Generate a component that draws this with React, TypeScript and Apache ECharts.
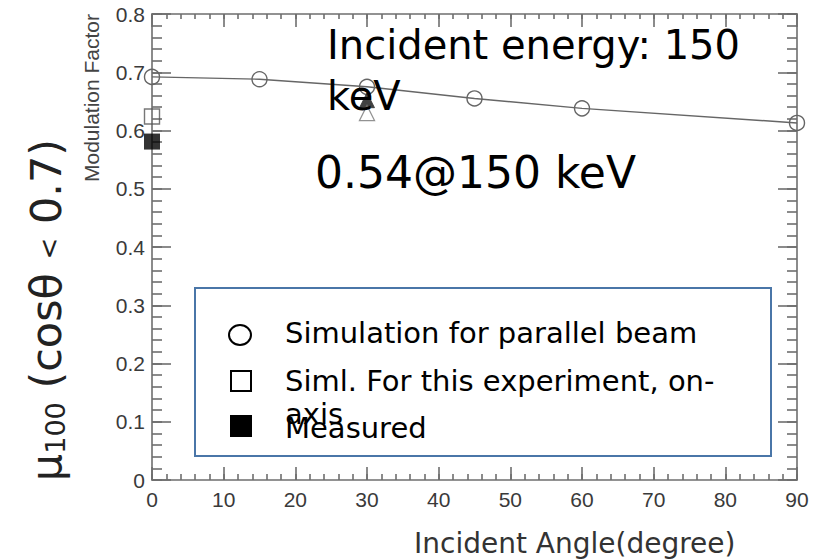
import React, { useEffect, useRef } from "react";
import * as echarts from "echarts";

// Incident angle (degree) of each simulated parallel-beam point
const parallelAngles = [0, 15, 30, 45, 60, 90];
// Modulation factor of the parallel-beam simulation
const parallelValues = [0.692, 0.688, 0.675, 0.655, 0.638, 0.613];

// Simulation of this experiment, on-axis
const simlAngles = [0];
const simlValues = [0.624];

// Measured modulation factor
const measuredAngles = [0];
const measuredValues = [0.581];

// Extra simulation points at 30 degree
const triOpenAngles = [30];
const triOpenValues = [0.63];
const triFilledAngles = [30];
const triFilledValues = [0.652];

const xTicks = [0, 10, 20, 30, 40, 50, 60, 70, 80, 90];
const yTicks = [0, 0.1, 0.2, 0.3, 0.4, 0.5, 0.6, 0.7, 0.8];
const xMinorStep = 2;
const yMinorStep = 0.02;

const legendLabels = [
  "Simulation for parallel beam",
  "Siml. For this experiment, on-",
  "axis",
  "Measured",
];

const HAND = "'Comic Sans MS', 'DejaVu Sans', sans-serif";
const SANS = "'Liberation Sans', Arial, sans-serif";
const AXIS_GRAY = "#6e6e6e";

const pairs = (xs: number[], ys: number[]) => xs.map((x, i) => [x, ys[i]]);

export default function App() {
  const ref = useRef<HTMLDivElement>(null);

  useEffect(() => {
    if (!ref.current) return;
    const chart = echarts.init(ref.current, undefined, { renderer: "svg" });

    const gridRect = { left: 152, right: 23, top: 14, bottom: 80 };
    const tickStyle = { color: AXIS_GRAY, width: 1.6 };

    const xRange = { type: "value" as const, min: xTicks[0], max: xTicks[xTicks.length - 1] };
    const yRange = { type: "value" as const, min: yTicks[0], max: yTicks[yTicks.length - 1] };

    // major ticks + frame on grid 0 (onZero off so top/right stay on the frame)
    const xMajor = (position: string, showLabel: boolean) => ({
      ...xRange,
      gridIndex: 0,
      position,
      interval: 10,
      splitLine: { show: false },
      axisLine: { show: true, onZero: false, lineStyle: { color: AXIS_GRAY, width: 1.6 } },
      axisTick: { show: true, inside: true, length: 13, lineStyle: tickStyle },
      axisLabel: showLabel
        ? { show: true, margin: 9, fontFamily: SANS, fontSize: 21, color: "#3a3a3a" }
        : { show: false },
    });
    const yMajor = (position: string, showLabel: boolean) => ({
      ...yRange,
      gridIndex: 0,
      position,
      interval: 0.1,
      splitLine: { show: false },
      axisLine: { show: true, onZero: false, lineStyle: { color: AXIS_GRAY, width: 1.6 } },
      axisTick: { show: true, inside: true, length: 19, lineStyle: tickStyle },
      axisLabel: showLabel
        ? { show: true, margin: 7, fontFamily: SANS, fontSize: 21, color: "#3a3a3a" }
        : { show: false },
    });
    // minor ticks, drawn inward, on an overlaid grid of the same size
    const xMinor = (position: string, length: number) => ({
      ...xRange,
      gridIndex: 1,
      position,
      interval: xMinorStep,
      splitLine: { show: false },
      axisLine: { show: false, onZero: false },
      axisLabel: { show: false },
      axisTick: { show: true, inside: true, length, lineStyle: tickStyle },
    });
    const yMinor = (position: string, length: number) => ({
      ...yRange,
      gridIndex: 1,
      position,
      interval: yMinorStep,
      splitLine: { show: false },
      axisLine: { show: false, onZero: false },
      axisLabel: { show: false },
      axisTick: { show: true, inside: true, length, lineStyle: tickStyle },
    });

    chart.setOption({
      animation: false,
      backgroundColor: "#ffffff",
      textStyle: { fontFamily: SANS },
      grid: [{ ...gridRect }, { ...gridRect }],
      xAxis: [xMajor("bottom", true), xMajor("top", false), xMinor("bottom", 6), xMinor("top", 5)],
      yAxis: [yMajor("left", true), yMajor("right", false), yMinor("left", 10), yMinor("right", 10)],
      series: [
        {
          name: "Simulation for parallel beam",
          type: "line",
          xAxisIndex: 0,
          yAxisIndex: 0,
          data: pairs(parallelAngles, parallelValues),
          symbol: "circle",
          symbolSize: 15,
          clip: false,
          lineStyle: { color: "#666", width: 1.4 },
          itemStyle: { color: "rgba(255,255,255,0)", borderColor: "#666", borderWidth: 1.4 },
          z: 3,
        },
        {
          name: "Triangle, filled",
          type: "scatter",
          xAxisIndex: 0,
          yAxisIndex: 0,
          data: pairs(triFilledAngles, triFilledValues),
          symbol: "triangle",
          symbolSize: 15,
          clip: false,
          itemStyle: { color: "#111", borderColor: "#333", borderWidth: 1 },
          z: 4,
        },
        {
          name: "Triangle, open",
          type: "scatter",
          xAxisIndex: 0,
          yAxisIndex: 0,
          data: pairs(triOpenAngles, triOpenValues),
          symbol: "triangle",
          symbolSize: 15,
          clip: false,
          itemStyle: { color: "rgba(255,255,255,0)", borderColor: "#777", borderWidth: 1.3 },
          z: 4,
        },
        {
          name: "Siml. For this experiment, on-axis",
          type: "scatter",
          xAxisIndex: 0,
          yAxisIndex: 0,
          data: pairs(simlAngles, simlValues),
          symbol: "rect",
          symbolSize: 15,
          clip: false,
          itemStyle: { color: "rgba(255,255,255,0)", borderColor: "#555", borderWidth: 1.4 },
          z: 4,
        },
        {
          name: "Measured",
          type: "scatter",
          xAxisIndex: 0,
          yAxisIndex: 0,
          data: pairs(measuredAngles, measuredValues),
          symbol: "rect",
          symbolSize: 16,
          clip: false,
          itemStyle: { color: "#000" },
          z: 5,
        },
      ],
      graphic: [
        {
          type: "text",
          x: 91,
          y: 98,
          rotation: Math.PI / 2,
          style: {
            text: "Modulation Factor",
            fontFamily: SANS,
            fontSize: 21,
            fill: "#444",
            align: "center",
            verticalAlign: "middle",
          },
        },
        {
          type: "text",
          x: 46,
          y: 310,
          rotation: Math.PI / 2,
          style: {
            text: "{mu|μ}{sub|100}{mu| (cosθ }{lt|<}{mu| 0.7)}",
            align: "center",
            verticalAlign: "middle",
            rich: {
              mu: { fontFamily: HAND, fontSize: 43, fill: "#222" },
              sub: { fontFamily: HAND, fontSize: 27, fill: "#222", verticalAlign: "bottom", padding: [18, 0, 0, 0] },
              lt: { fontFamily: HAND, fontSize: 26, fill: "#222", verticalAlign: "middle", padding: [6, 0, 0, 0] },
            },
          },
        },
        {
          type: "text",
          x: 327,
          y: 45,
          style: { text: "Incident energy: 150", fontFamily: HAND, fontSize: 40, fill: "#000", verticalAlign: "middle" },
          z: 10,
        },
        {
          type: "text",
          x: 327,
          y: 96,
          style: { text: "keV", fontFamily: HAND, fontSize: 40, fill: "#000", verticalAlign: "middle" },
          z: 10,
        },
        {
          type: "text",
          x: 315,
          y: 172,
          style: { text: "0.54@150 keV", fontFamily: HAND, fontSize: 44, fill: "#000", verticalAlign: "middle" },
          z: 10,
        },
        {
          type: "rect",
          shape: { x: 195, y: 288, width: 576, height: 168 },
          style: { fill: "#fff", stroke: "#4a76a8", lineWidth: 2 },
          z: 10,
        },
        {
          type: "ellipse",
          shape: { cx: 240, cy: 335, rx: 11, ry: 10 },
          style: { fill: "#fff", stroke: "#000", lineWidth: 2 },
          z: 11,
        },
        {
          type: "rect",
          shape: { x: 231, y: 371, width: 20, height: 20 },
          style: { fill: "#fff", stroke: "#000", lineWidth: 2 },
          z: 11,
        },
        {
          type: "rect",
          shape: { x: 230, y: 415, width: 22, height: 22 },
          style: { fill: "#000" },
          z: 11,
        },
        {
          type: "text",
          x: 285,
          y: 333,
          style: { text: legendLabels[0], fontFamily: HAND, fontSize: 29, fill: "#000", verticalAlign: "middle" },
          z: 11,
        },
        {
          type: "text",
          x: 285,
          y: 381,
          style: { text: legendLabels[1], fontFamily: HAND, fontSize: 29, fill: "#000", verticalAlign: "middle" },
          z: 11,
        },
        {
          type: "text",
          x: 285,
          y: 414,
          style: { text: legendLabels[2], fontFamily: HAND, fontSize: 29, fill: "#000", verticalAlign: "middle" },
          z: 11,
        },
        {
          type: "text",
          x: 285,
          y: 428,
          style: { text: legendLabels[3], fontFamily: HAND, fontSize: 29, fill: "#000", verticalAlign: "middle" },
          z: 11,
        },
        {
          type: "text",
          x: 414,
          y: 543,
          style: {
            text: "Incident Angle(degree)",
            fontFamily: HAND,
            fontSize: 28,
            fill: "#333",
            verticalAlign: "middle",
          },
          z: 10,
        },
      ],
    });

    return () => chart.dispose();
  }, []);

  return <div ref={ref} style={{ width: 820, height: 560, position: "absolute", left: 0, top: 0 }} />;
}
